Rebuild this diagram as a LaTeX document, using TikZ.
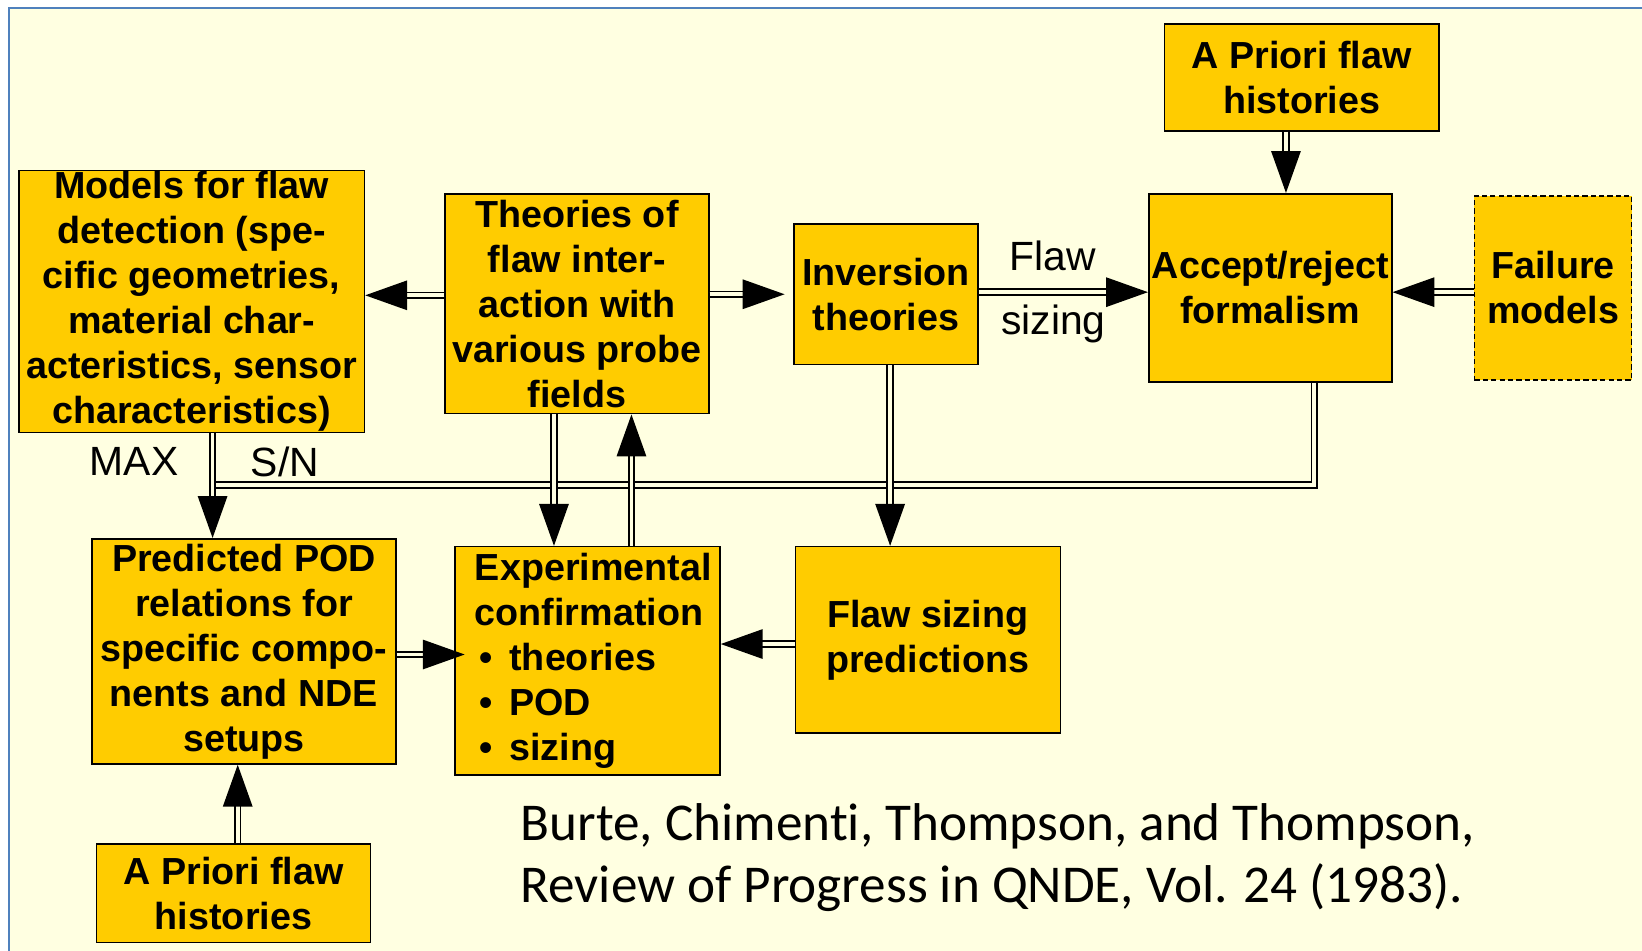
\documentclass[tikz,border=0pt]{standalone}
\usepackage{fontspec}
\setmainfont{Liberation Sans}
\newfontfamily\citefont[Ligatures={NoCommon}]{Carlito}
\usetikzlibrary{arrows.meta}
\definecolor{bgy}{HTML}{FFFFE1}
\definecolor{boxy}{HTML}{FFCC00}
\definecolor{frameblue}{HTML}{4F81BD}
\begin{document}
\begin{tikzpicture}[x=1pt,y=-1pt,
  blk/.style={draw=black, fill=boxy, line width=1.5pt, inner sep=0pt, align=center,
    font=\fontsize{36}{43}\selectfont\bfseries},
  dline/.style={draw=black, line width=1.8pt, double=bgy, double distance=3.5pt},
  conn/.style={dline, -{Triangle[length=40pt,width=28pt]}},
  lbl/.style={font=\fontsize{39}{43}\selectfont, inner sep=0pt}]

\useasboundingbox (0,0) rectangle (1568,908);
\fill[white] (0,0) rectangle (1568,908);
\fill[bgy] (9,8) rectangle (1600,1000);
\draw[frameblue, line width=2pt] (1600,8) -- (9,8) -- (9,1000);

% boxes
\node[blk, minimum width=330pt, minimum height=250pt] (models) at (183,288)
  {\vspace*{4pt}Models for flaw\\detection (spe-\\cific geometries,\\material char-\\acteristics, sensor\\characteristics)};
\node[blk, minimum width=252pt, minimum height=210pt] (theories) at (551,290)
  {Theories of\\flaw inter-\\action with\\various probe\\fields};
\node[blk, minimum width=176pt, minimum height=134pt] (inversion) at (846,281)
  {Inversion\\theories};
\node[blk, minimum width=232pt, minimum height=180pt] (accept) at (1213,275)
  {Accept/reject\\formalism};
\node[blk, minimum width=262pt, minimum height=102pt] (aprioriA) at (1243,74)
  {A Priori flaw\\histories};
\node[blk, dash pattern=on 5pt off 3pt, minimum width=150pt, minimum height=176pt] (failure) at (1483,275)
  {Failure\\models};
\node[blk, minimum width=290pt, minimum height=215pt] (predicted) at (233,622)
  {Predicted POD\\relations for\\specific compo-\\nents and NDE\\setups};
\node[blk, align=left, text width=215pt, inner xsep=19pt, minimum height=218pt] (exper) at (561,631)
  {Experimental\\confirmation\\\hspace*{4pt}\makebox[29pt][l]{\textbullet}theories\\\hspace*{4pt}\makebox[29pt][l]{\textbullet}POD\\\hspace*{4pt}\makebox[29pt][l]{\textbullet}sizing};
\node[blk, minimum width=253pt, minimum height=178pt] (sizing) at (886,611)
  {Flaw sizing\\predictions};
\node[blk, minimum width=262pt, minimum height=94pt] (aprioriB) at (223,853)
  {A Priori flaw\\histories};

% helper coordinates
\coordinate (ya) at (0,282);
\coordinate (yb) at (0,281);
\coordinate (yc) at (0,279);
\coordinate (yi) at (0,615);
\coordinate (yj) at (0,625);
\coordinate (xd) at (1228,0);
\coordinate (xf) at (850,0);
\coordinate (xg) at (529,0);
\coordinate (xh) at (603,0);
\coordinate (xk) at (227,0);
\coordinate (xl) at (203,0);
\coordinate (xm) at (1255,0);
\coordinate (join) at (206,463);

% feedback line
\draw[dline] (accept.south -| xm) |- (join);

% connectors
\draw[conn] (theories.west |- ya) -- (models.east |- ya);
\draw[conn, shorten >=8pt] (theories.east |- yb) -- (inversion.west |- yb);
\draw[conn] (inversion.east |- yc) -- (accept.west |- yc);
\draw[conn] (aprioriA.south -| xd) -- (accept.north -| xd);
\draw[conn] (failure.west |- yc) -- (accept.east |- yc);
\draw[conn] (inversion.south -| xf) -- (sizing.north -| xf);
\draw[conn] (theories.south -| xg) -- (exper.north -| xg);
\draw[conn] (exper.north -| xh) -- (theories.south -| xh);
\draw[conn] (sizing.west |- yi) -- (exper.east |- yi);
\draw[conn, shorten >=-10pt] (predicted.east |- yj) -- (exper.west |- yj);
\draw[conn] (aprioriB.north -| xk) -- (predicted.south -| xk);
\draw[conn] (models.south -| xl) -- (predicted.north -| xl);

% labels
\node[lbl] (flaw) at (1005,244) {Flaw};
\node[lbl] (sizinglbl) at (1006,309) {sizing};
\node[lbl] (max) at (128,441) {MAX};
\node[lbl] (sn) at (272,441) {S/N};

% citation
\node[font=\citefont\fontsize{50.8}{60}\selectfont, align=left, anchor=west, inner sep=0pt] (cite) at (497,819)
  {Burte, Chimenti, Thompson, and Thompson,\\Review of Progress in QNDE, Vol. 24 (1983).};
\end{tikzpicture}
\end{document}
